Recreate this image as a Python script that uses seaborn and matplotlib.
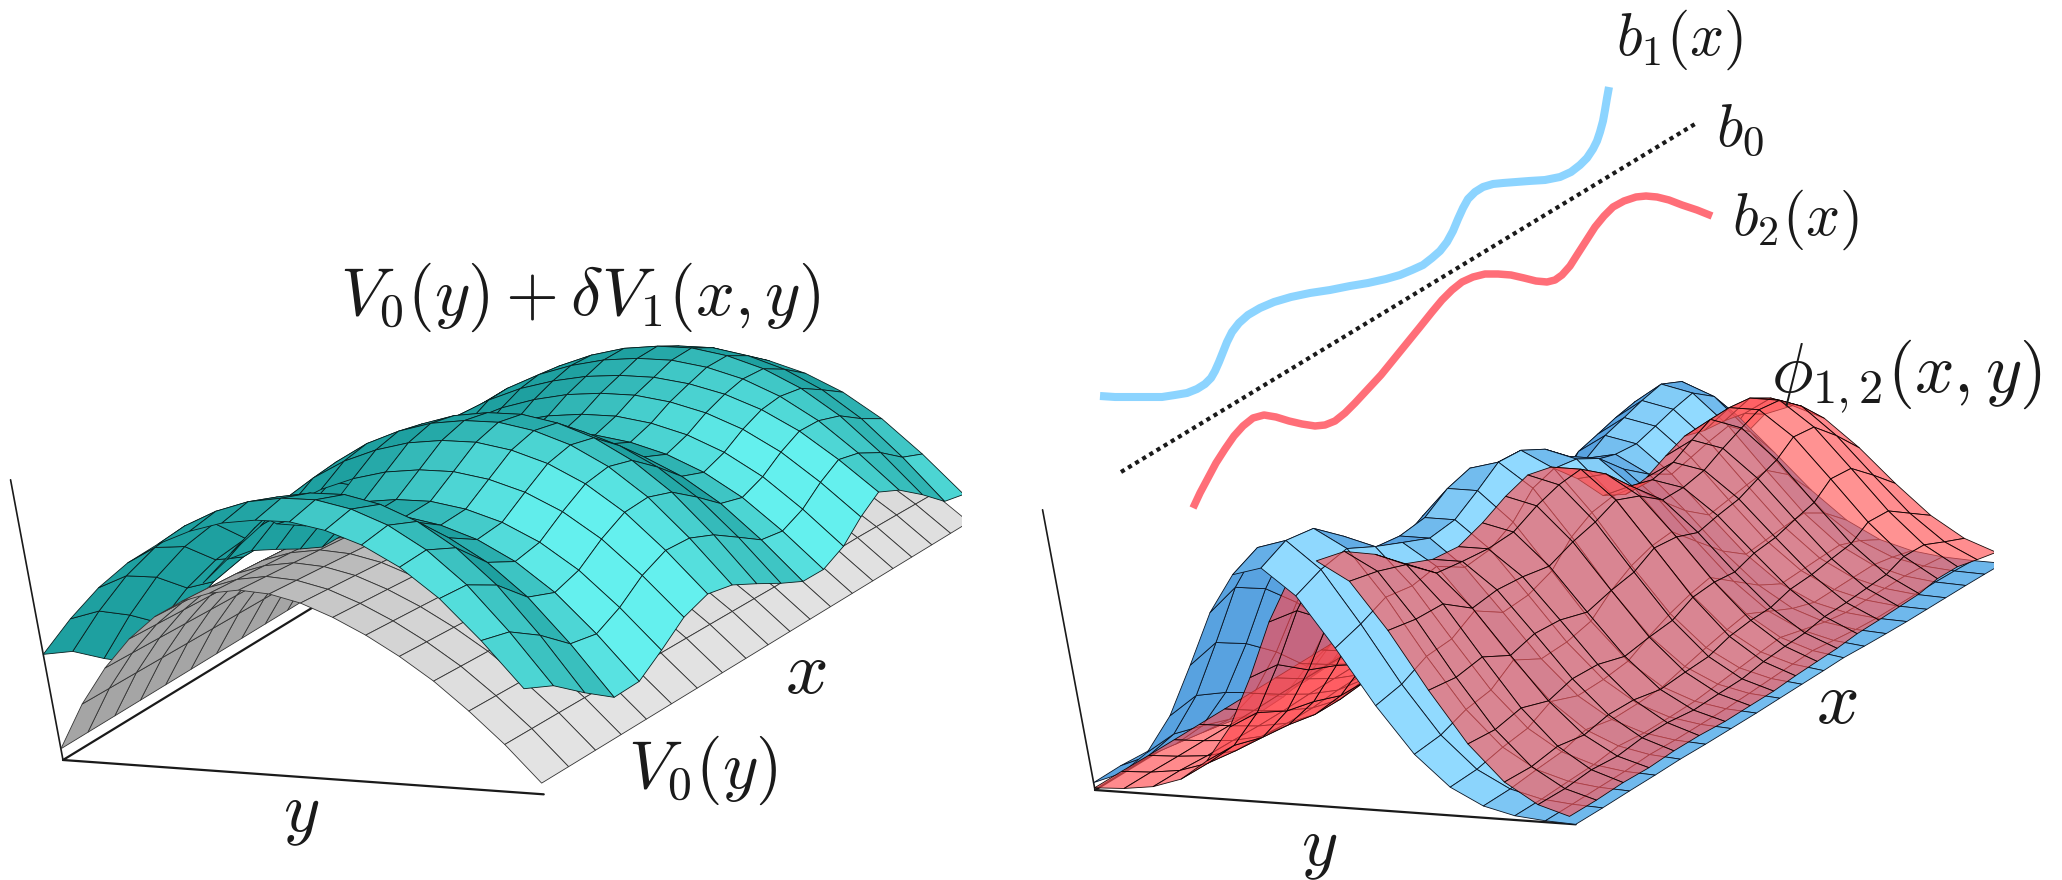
import numpy as np
import matplotlib
matplotlib.use("Agg")
import matplotlib.pyplot as plt
import seaborn as sns
from mpl_toolkits.mplot3d import proj3d
from mpl_toolkits.mplot3d.art3d import Poly3DCollection

# ---- values -----------------------------------------------------------
# Grid rows along x, spaced as on the edge of the surfaces
x_rows = [0,.063,.126,.186,.245,.304,.364,.423,.478,.53,.581,.628,.676,.727,.775,.822,.866,.913,.957,1]

# Left panel: height of the arches along x (crest and foot), and their cross sections along y
teal_crest = [.92,.94,.90,.78,.71,.71,.76,.81,.83,.81,.73,.64,.60,.62,.65,.67,.69,.69,.65,.59]
teal_foot = [.377,.329,.245,.173,.175,.231,.293,.321,.302,.258,.212,.175,.173,.208,.268,.313,.279,.219,.154,.139]
teal_section = [0,.25,.47,.65,.79,.89,.96,.995,1,.96,.88,.75,.56,.30,0]
gray_section = [0,.27,.49,.67,.81,.91,.97,1,.99,.95,.88,.79,.68,.55,.39,.21,0]
gray_height = [.62,.61,.60,.59,.58,.57,.56,.55,.54,.53,.52,.51,.51,.50,.49,.49,.48,.47,.46,.45]
gray_floor = .04

# Right panel: ridge height and ridge centre along x, shared bell-shaped cross section
blue_height = [.85,.89,.87,.79,.72,.69,.70,.75,.79,.78,.74,.68,.61,.585,.60,.62,.64,.655,.62,.55]
red_height = [.88,.855,.79,.70,.67,.66,.68,.72,.745,.735,.66,.57,.55,.565,.60,.63,.64,.63,.58,.51]
blue_centre = [27,27,28,29,31,30,30,30,31,32,33,34,33,31,29,29,29,29,28,26]
red_centre = [36,36,37,37,38,38,37,37,37,38,39,40,41,41,41,41,42,42,41,40]
ridge_section = [1,.995,.981,.958,.926,.887,.841,.79,.735,.677,.619,.56,.501,.444,.39,.339,.292,.249,.21,.176,
                 .146,.12,.098,.079,.063,.05,.04,.031,.024,.018,.014,.01,.008,.006,.004,.003,.002,0]

# Curves above the right panel (figure pixels)
b1_x = [1100,1115,1131,1147,1162,1175,1187,1197,1205,1211,1215,1219,1223,1227,1232,1239,1248,1260,1274,1291,1310,1330,1350,1368,1386,1400,1412,1423,1432,1440,1447,1453,1458,1463,1468,1475,1483,1493,1503,1516,1529,1545,1560,1571,1580,1587,1593,1597,1600,1603,1605,1607,1609]
b1_y = [396,397,397,397,397,395,393,389,384,378,371,362,352,342,332,323,315,308,302,297,293,290,286,283,279,275,270,265,258,251,242,231,219,208,199,192,187,184,183,182,181,180,177,172,165,158,149,141,132,121,110,98,87]
b2_x = [1193,1200,1208,1216,1225,1234,1243,1253,1264,1276,1289,1302,1315,1325,1335,1345,1355,1368,1381,1394,1407,1420,1432,1442,1452,1462,1473,1485,1498,1511,1524,1536,1547,1555,1562,1570,1577,1586,1595,1604,1613,1624,1636,1646,1657,1669,1682,1697,1712]
b2_y = [508,493,478,463,449,436,426,418,415,417,421,424,426,425,421,413,403,389,375,359,343,327,312,300,290,282,277,274,274,275,278,281,282,280,275,266,255,241,227,216,207,201,197,196,197,200,205,210,216]
b0_x = [1121,1695]
b0_y = [472,124]

labels = [(r"$V_0(y)+\delta V_1(x,y)$", 580, 297, 49),
          (r"$x$", 806, 672, 54), (r"$V_0(y)$", 703, 770, 49), (r"$y$", 301, 815, 50),
          (r"$\phi_{1,2}(x,y)$", 1906, 377, 50), (r"$b_1(x)$", 1679, 40, 43), (r"$b_0$", 1740, 129, 44),
          (r"$b_2(x)$", 1795, 220, 43), (r"$x$", 1837, 703, 54), (r"$y$", 1319, 848, 50)]

# ---- helpers -----------------------------------------------------------
BOX = (1, .827, .41)
LIGHT = np.array([-.55, .65, .5]) / np.linalg.norm([-.55, .65, .5])


def cells(X, Y, Z, dark, bright, alpha, lo, hi, edge, keep):
    verts, faces, edges = [], [], []
    dark, bright = np.array(dark) / 255, np.array(bright) / 255
    for i in range(X.shape[0] - 1):
        for j in range(X.shape[1] - 1):
            if not keep(i, j):
                continue
            p = np.array([[X[a, b], Y[a, b], Z[a, b]] for a, b in ((i, j), (i + 1, j), (i + 1, j + 1), (i, j + 1))])
            s = p * BOX
            n = np.cross(s[2] - s[0], s[1] - s[3])
            n = n / np.linalg.norm(n) * np.sign(n[2])
            t = np.clip((n @ LIGHT - lo) / (hi - lo), 0, 1)
            verts.append(p)
            faces.append((*(dark + (bright - dark) * t), alpha))
            edges.append(edge)
    return verts, faces, edges


def panel(origin, layers, x_end):
    ax = fig.add_axes([0, 0, 968 / W, 968 / H], projection="3d")
    ax.set_proj_type("ortho")
    ax.set_box_aspect(BOX)
    ax.view_init(elev=18.4, azim=-140.3, roll=10.6)
    ax.set_xlim(0, 1, view_margin=0)
    ax.set_ylim(1, 0, view_margin=0)
    ax.set_zlim(0, 1, view_margin=0)
    ax.set_axis_off()
    ax.patch.set_alpha(0)
    ax.computed_zorder = False
    ax.plot([0, x_end], [0, 0], [0, 0], color="k", lw=1.6, zorder=1)
    ax.plot([0, 0], [0, 1], [0, 0], color="k", lw=1.6, zorder=1)
    ax.plot([0, 0], [0, 0], [0, 1], color="k", lw=1.2, zorder=1)
    for k, s in enumerate(layers):
        v, f, e = cells(*s)
        ax.add_collection3d(Poly3DCollection(v, facecolors=f, edgecolors=e, linewidths=.6, zorder=3 + k))
    # move the axes so that the corner of the frame lands on its place
    ax.apply_aspect()
    x2, y2, _ = proj3d.proj_transform(0, 0, 0, ax.get_proj())
    px = ax.transData.transform((x2, y2))
    pos = ax.get_position()
    ax.set_position([pos.x0 + (origin[0] - px[0]) / W, pos.y0 + (H - origin[1] - px[1]) / H, pos.width, pos.height])
    return ax


# ---- figure ------------------------------------------------------------
sns.set_theme(style="white")
plt.rcParams["mathtext.fontset"] = "cm"
W, H = 2062, 880
fig = plt.figure(figsize=(W / 100, H / 100), dpi=100, facecolor="white")

xg = np.array(x_rows)

# left: the back flank of the nearest arch lies behind the gray surface, all the rest in front of it
yg = np.linspace(0, 1, len(teal_section))
X, Y = np.meshgrid(xg, yg, indexing="ij")
Zt = np.outer(teal_foot, np.ones(len(yg))) + np.outer(np.subtract(teal_crest, teal_foot), teal_section)
yg2 = np.linspace(0, 1, len(gray_section))
X2, Y2 = np.meshgrid(xg, yg2, indexing="ij")
Zg = gray_floor + np.outer(gray_height, gray_section)
teal_style = ((30, 160, 160), (100, 240, 238), 1, .45, .88, (.03, .12, .12, 1))
behind = lambda i, j: i < 6 and j < 5
panel((63, 760),
      [(X, Y, Zt, *teal_style, behind),
       (X2, Y2, Zg, (165, 165, 165), (232, 232, 232), 1, .45, .85, (.2, .2, .2, 1), lambda i, j: True),
       (X, Y, Zt, *teal_style, lambda i, j: not behind(i, j))], .9)

# right
n_y = 17
yr = np.linspace(0, 1, n_y)
section = np.array(ridge_section)
idx = np.arange(n_y) * 4
Zb = np.array([h * section[np.minimum(np.abs(idx - c), len(section) - 1)] for h, c in zip(blue_height, blue_centre)])
Zr = np.array([h * section[np.minimum(np.abs(idx - c), len(section) - 1)] for h, c in zip(red_height, red_centre)]) + .006
Xr, Yr = np.meshgrid(xg, yr, indexing="ij")
blue_style = ((88, 162, 224), (145, 218, 255), 1, .35, .8, (.03, .08, .14, 1))
red_style = ((255, 72, 78), (255, 90, 90), .66, .3, .8, (.05, 0, 0, .95))
panel((1095, 790),
      [(Xr, Yr, Zb, *blue_style, lambda i, j: j < 7),
       (Xr, Yr * .99, Zr, *red_style, lambda i, j: j < 9),
       (Xr, Yr, Zb, *blue_style, lambda i, j: j >= 7),
       (Xr, Yr * .99, Zr, *red_style, lambda i, j: j >= 9)], .9)

# overlay with the curves and the labels, in figure pixels
ov = fig.add_axes([0, 0, 1, 1], zorder=10)
ov.set_xlim(0, W)
ov.set_ylim(H, 0)
ov.axis("off")
ov.patch.set_alpha(0)
sns.lineplot(x=b1_x, y=b1_y, ax=ov, color="#8CD4FF", lw=5.8, sort=False, estimator=None,
             solid_capstyle="butt", solid_joinstyle="round")
sns.lineplot(x=b2_x, y=b2_y, ax=ov, color="#FF6E78", lw=5.4, sort=False, estimator=None,
             solid_capstyle="butt", solid_joinstyle="round")
ov.plot(b0_x, b0_y, color="k", lw=3, ls=(0, (1, 1)))
for txt, x, y, size in labels:
    ov.text(x, y, txt, fontsize=size, ha="center", va="center", color="k")

fig.savefig("out.png", dpi=100, facecolor="white")
